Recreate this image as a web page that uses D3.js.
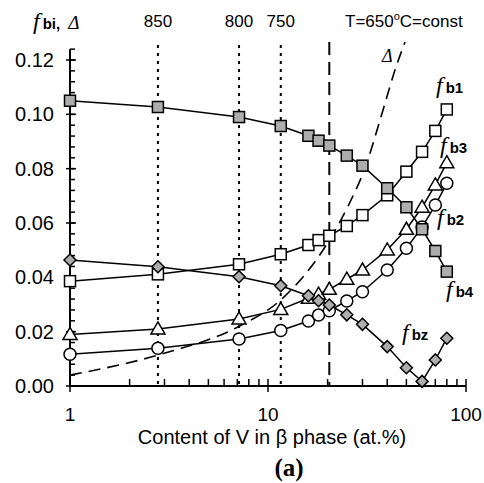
<!DOCTYPE html>
<html>
<head>
<meta charset="utf-8">
<script src="https://cdn.jsdelivr.net/npm/d3@7"></script>
<style>
body { margin: 0; background: #fff; }
text { font-family: "Liberation Sans", Arial, sans-serif; }
</style>
</head>
<body>
<div id="chart"></div>
<script>
// V content in beta phase (at.%) for every series point
var vContent = [1, 2.78, 7.14, 11.6, 16, 18, 20.4, 25, 30, 40, 50, 60, 70, 80];
var fb1 = [0.0386, 0.0411, 0.0448, 0.0485, 0.0519, 0.0537, 0.0553, 0.0589, 0.0629, 0.0702, 0.0789, 0.0862, 0.0939, 0.1018];
var fb2 = [0.0117, 0.0139, 0.0173, 0.0204, 0.0239, 0.0261, 0.0277, 0.0313, 0.0347, 0.0427, 0.0507, 0.0585, 0.0666, 0.0746];
var fb3 = [0.0190, 0.0210, 0.0247, 0.0282, 0.0323, 0.0338, 0.0356, 0.0393, 0.0427, 0.0501, 0.0577, 0.0658, 0.0740, 0.0822];
var fb4 = [0.1050, 0.1027, 0.0990, 0.0957, 0.0921, 0.0903, 0.0885, 0.0848, 0.0811, 0.0728, 0.0658, 0.0577, 0.0497, 0.0421];
var fbz = [0.0464, 0.0439, 0.0402, 0.0369, 0.0332, 0.0314, 0.0298, 0.0262, 0.0227, 0.0145, 0.0067, 0.0017, 0.0096, 0.0176];
// delta curve
var deltaV = [1, 2.78, 7.2, 11.6, 20.4, 25.4, 30.9, 38.1, 43.8, 49.2];
var deltaY = [0.0040, 0.0114, 0.0221, 0.0317, 0.0537, 0.0663, 0.0803, 0.1016, 0.1163, 0.1266];
// temperature marker lines
var tempV = [2.78, 7.14, 11.6];
var tempLabels = ["850", "800", "750"];
var constV = 20.4;
var yTicks = [0, 0.02, 0.04, 0.06, 0.08, 0.10, 0.12];
var xTicks = [1, 10, 100];

var w = 484, h = 483;
var svg = d3.select("#chart").append("svg").attr("width", w).attr("height", h);

var x = d3.scaleLog().domain([1, 100]).range([70, 466]);
var y = d3.scaleLinear().domain([0, 0.12]).range([386, 60]);
var yTop = 0.124;

// vertical temperature lines
svg.selectAll("line.temp").data(tempV).enter().append("line")
	.attr("x1", function(d) { return x(d); }).attr("x2", function(d) { return x(d); })
	.attr("y1", 45).attr("y2", 386)
	.attr("stroke", "#000").attr("stroke-width", 2).attr("stroke-dasharray", "3,5");
svg.append("line").attr("x1", x(constV)).attr("x2", x(constV)).attr("y1", 42).attr("y2", 386)
	.attr("stroke", "#000").attr("stroke-width", 2).attr("stroke-dasharray", "13,7");

svg.selectAll("text.temp").data(tempLabels).enter().append("text")
	.attr("x", function(d, i) { return x(tempV[i]); }).attr("y", 27)
	.attr("text-anchor", "middle").attr("font-size", 17).text(function(d) { return d; });
var tl = svg.append("text").attr("x", 345).attr("y", 27).attr("font-size", 17);
tl.append("tspan").text("T=650");
tl.append("tspan").attr("dy", -7).attr("font-size", 11).text("o");
tl.append("tspan").attr("dy", 7).text("C=const");

// axes
svg.append("line").attr("x1", 70).attr("x2", 70).attr("y1", y(yTop)).attr("y2", 386).attr("stroke", "#000").attr("stroke-width", 2);
svg.append("line").attr("x1", 70).attr("x2", 466).attr("y1", 386).attr("y2", 386).attr("stroke", "#000").attr("stroke-width", 2);

var yMinor = d3.range(0, yTop + 0.0001, 0.004);
svg.selectAll("line.ymin").data(yMinor).enter().append("line")
	.attr("x1", 70).attr("x2", 75).attr("y1", function(d) { return y(d); }).attr("y2", function(d) { return y(d); })
	.attr("stroke", "#000").attr("stroke-width", 1.5);
svg.selectAll("line.ymaj").data(yTicks).enter().append("line")
	.attr("x1", 66).attr("x2", 76).attr("y1", function(d) { return y(d); }).attr("y2", function(d) { return y(d); })
	.attr("stroke", "#000").attr("stroke-width", 1.5);
svg.selectAll("text.ytick").data(yTicks).enter().append("text")
	.attr("x", 54).attr("y", function(d) { return y(d) + 7; })
	.attr("text-anchor", "end").attr("font-size", 20).text(function(d) { return d.toFixed(2); });

var xMinor = [];
[1, 10].forEach(function(dec) { for (var k = 2; k <= 9; k++) xMinor.push(dec * k); });
svg.selectAll("line.xmin").data(xMinor).enter().append("line")
	.attr("x1", function(d) { return x(d); }).attr("x2", function(d) { return x(d); })
	.attr("y1", 386).attr("y2", 379).attr("stroke", "#000").attr("stroke-width", 1.5);
svg.selectAll("line.xmaj").data(xTicks).enter().append("line")
	.attr("x1", function(d) { return x(d); }).attr("x2", function(d) { return x(d); })
	.attr("y1", 379).attr("y2", 392).attr("stroke", "#000").attr("stroke-width", 1.5);
svg.selectAll("text.xtick").data(xTicks).enter().append("text")
	.attr("x", function(d) { return x(d); }).attr("y", 421)
	.attr("text-anchor", "middle").attr("font-size", 19).text(function(d) { return d; });

svg.append("text").attr("x", 272).attr("y", 444).attr("text-anchor", "middle").attr("font-size", 20)
	.text("Content of V in \u03b2 phase (at.%)");
svg.append("text").attr("x", 289).attr("y", 476).attr("text-anchor", "middle")
	.attr("font-size", 25).attr("font-weight", "bold").style("font-family", "'Liberation Serif', 'Times New Roman', serif")
	.text("(a)");

// y axis label
function fLabel(px, py, sub) {
	var t = svg.append("text").attr("x", px).attr("y", py);
	t.append("tspan").style("font-family", "'Liberation Serif', serif").attr("font-style", "italic").attr("font-size", 24).text("f");
	t.append("tspan").attr("dx", 3).attr("font-weight", "bold").attr("font-size", 15).text(sub);
	return t;
}
var yl = fLabel(33, 29, "bi,");
yl.append("tspan").attr("dx", 8).style("font-family", "'Liberation Serif', serif").attr("font-style", "italic").attr("font-size", 19).text("\u0394");

// delta curve
var deltaPts = deltaV.map(function(v, i) { return [v, deltaY[i]]; });
svg.append("path").datum(deltaPts)
	.attr("d", d3.line().x(function(d) { return x(d[0]); }).y(function(d) { return y(d[1]); }).curve(d3.curveMonotoneX))
	.attr("fill", "none").attr("stroke", "#000").attr("stroke-width", 1.6).attr("stroke-dasharray", "12,7");
svg.append("text").attr("x", 382).attr("y", 62).style("font-family", "'Liberation Serif', serif")
	.attr("font-style", "italic").attr("font-size", 18).text("\u0394");

var line = d3.line().x(function(d, i) { return x(vContent[i]); }).y(function(d) { return y(d); });

var series = [
	{ vals: fb1, shape: "square", fill: "#fff" },
	{ vals: fb3, shape: "triangle", fill: "#fff" },
	{ vals: fb2, shape: "circle", fill: "#fff" },
	{ vals: fbz, shape: "diamond", fill: "#adadad" },
	{ vals: fb4, shape: "square", fill: "#adadad" }
];

series.forEach(function(s) {
	svg.append("path").datum(s.vals).attr("d", line)
		.attr("fill", "none").attr("stroke", "#000").attr("stroke-width", 1.5);
});
series.forEach(function(s) {
	var g = svg.append("g");
	s.vals.forEach(function(d, i) {
		var cx = x(vContent[i]), cy = y(d), m;
		if (s.shape === "square") {
			m = g.append("rect").attr("x", cx - 5.5).attr("y", cy - 5.5).attr("width", 11).attr("height", 11);
		} else if (s.shape === "circle") {
			m = g.append("circle").attr("cx", cx).attr("cy", cy).attr("r", 6);
		} else if (s.shape === "triangle") {
			m = g.append("path").attr("d", "M" + cx + "," + (cy - 7) + "L" + (cx + 7) + "," + (cy + 5) + "L" + (cx - 7) + "," + (cy + 5) + "Z");
		} else {
			m = g.append("path").attr("d", "M" + cx + "," + (cy - 6) + "L" + (cx + 6) + "," + cy + "L" + cx + "," + (cy + 6) + "L" + (cx - 6) + "," + cy + "Z");
		}
		m.attr("fill", s.fill).attr("stroke", "#000").attr("stroke-width", 1.5);
	});
});

// series labels
fLabel(436, 93, "b1");
fLabel(440, 153, "b3");
fLabel(437, 225, "b2");
fLabel(446, 297, "b4");
fLabel(402, 340, "bz");
</script>
</body>
</html>
